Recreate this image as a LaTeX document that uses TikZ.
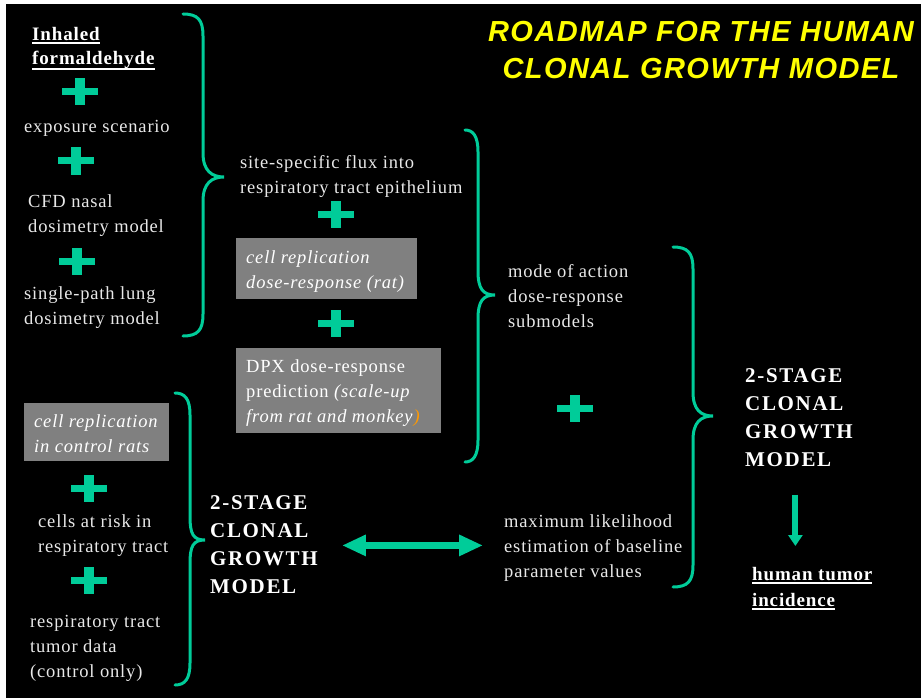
\documentclass[tikz,border=0pt]{standalone}
\usepackage{fontspec}
\setmainfont{Liberation Serif}[LetterSpace=4.5]
\newfontfamily\titlefont{Liberation Sans}[LetterSpace=5]
\newfontfamily\modelfont{Liberation Serif}[LetterSpace=8]
\usetikzlibrary{arrows.meta}
\definecolor{tealc}{HTML}{00CC99}
\definecolor{fg}{HTML}{E8E8E8}
\definecolor{boxgray}{HTML}{808080}
\definecolor{orangec}{HTML}{FF9900}
\definecolor{titley}{HTML}{FFFF00}
\newcommand\myul[2][4pt]{\setbox0\hbox{#2}\rlap{\rule[-#1]{\wd0}{2pt}}\box0}
\newcommand\mybrace[6]{%
  \draw[brc] (#1,#2) .. controls ({#3-5},#2) and (#3,{#2+6}) .. (#3,{#2+22})
    -- (#3,{#5-24}) .. controls (#3,{#5-6}) and ({#4-12},#5) .. (#4,#5)
    .. controls ({#4-12},#5) and (#3,{#5+6}) .. (#3,{#5+24})
    -- (#3,{#6-22}) .. controls (#3,{#6-6}) and ({#3-5},#6) .. (#1,#6);}
\tikzset{
  txt/.style={anchor=north west, inner sep=0pt, align=left, text=fg,
    font=\fontsize{18.5}{25}\selectfont},
  itxt/.style={txt, font=\itshape\fontsize{18.5}{25}\selectfont, text=white},
  btxt/.style={txt, font=\bfseries\fontsize{19}{24}\selectfont, text=white},
  mtxt/.style={txt, font=\modelfont\bfseries\fontsize{21}{28}\selectfont, text=white},
  bbox/.style={anchor=north west, inner sep=0pt, fill=boxgray, draw=none},
  brc/.style={draw=tealc, line width=3pt, line cap=round},
  dblarr/.style={draw=tealc, line width=7pt,
    {Triangle[length=24pt,width=20pt]}-{Triangle[length=24pt,width=20pt]}},
  downarr/.style={draw=tealc, line width=6pt, -{Triangle[length=11pt,width=14pt]}},
  plussign/.pic={\fill[tealc] (-18,-3.5) rectangle (18,3.5);
                 \fill[tealc] (-5,-13.5) rectangle (5,13.5);}
}
\begin{document}
\begin{tikzpicture}[x=1pt,y=-1pt]
\path[use as bounding box, fill=white] (0,0) rectangle (921,698);
\fill[black] (6,4) rectangle (921,698);

% title
\node[anchor=north, inner sep=0pt, align=center, text=titley,
  font=\titlefont\bfseries\itshape\fontsize{29}{37}\selectfont] (title) at (701,15.1)
  {\strut ROADMAP FOR THE HUMAN\\CLONAL GROWTH MODEL};

% left column
\node[btxt] (inh) at (32,23.2) {\strut\myul{Inhaled}\\\myul[6pt]{formaldehyde}};
\pic (p1) at (80,92) {plussign};
\node[txt] (exp) at (24,114.5) {\strut exposure scenario};
\pic (p2) at (76,161) {plussign};
\node[txt] (cfd) at (28,189.5) {\strut CFD nasal\\dosimetry model};
\pic (p3) at (77,261) {plussign};
\node[txt] (spl) at (24,281.5) {\strut single-path lung\\dosimetry model};
\mybrace{183}{14}{203}{224}{177}{336}

% middle column
\node[txt] (site) at (240,150.5) {\strut site-specific flux into\\respiratory tract epithelium};
\pic (p4) at (336,214) {plussign};
\node[bbox, minimum width=181pt, minimum height=61pt] (box1) at (236,238) {};
\node[itxt] (crd) at (246,245.5) {\strut cell replication\\dose-response (rat)};
\pic (p5) at (336,323) {plussign};
\node[bbox, minimum width=205pt, minimum height=85pt] (box2) at (236,348) {};
\node[txt, text=white] (dpx) at (246,354.5)
  {\strut DPX dose-response\\prediction \textit{(scale-up}\\\textit{from rat and monkey}\textit{\color{orangec})}};
\mybrace{465}{130}{478}{495}{295}{462}

\node[txt] (mode) at (508,259.5) {\strut mode of action\\dose-response\\submodels};
\pic (p6) at (575,408) {plussign};

% bottom left
\node[bbox, minimum width=145pt, minimum height=58pt] (box3) at (24,403) {};
\node[itxt] (crc) at (34,409.5) {\strut cell replication\\in control rats};
\pic (p7) at (89,488) {plussign};
\node[txt] (cells) at (38,509.5) {\strut cells at risk in\\respiratory tract};
\pic (p8) at (89,580) {plussign};
\node[txt] (rtt) at (30,609.5) {\strut respiratory tract\\tumor data\\(control only)};
\mybrace{175}{393}{190}{205}{540}{685}

\node[mtxt] (model1) at (210,489.4) {\strut 2-STAGE\\CLONAL\\GROWTH\\MODEL};
\node[txt] (mle) at (504,509.5) {\strut maximum likelihood\\estimation of baseline\\parameter values};
\draw[dblarr, shorten <=24pt, shorten >=21pt] (model1.east |- mle.west) -- (mle.west);

% right
\mybrace{673}{247}{693}{713}{416}{587}
\node[mtxt] (model2) at (745,362.4) {\strut 2-STAGE\\CLONAL\\GROWTH\\MODEL};
\node[btxt, font=\bfseries\fontsize{19}{26}\selectfont] (tumor) at (752,561.8)
  {\strut\myul{human tumor}\\\myul{incidence}};
\draw[downarr, shorten <=28pt, shorten >=15.8pt]
  ([xshift=-3.6pt]model2.south) -- ([xshift=-3.6pt]model2.south |- tumor.north);
\end{tikzpicture}
\end{document}
